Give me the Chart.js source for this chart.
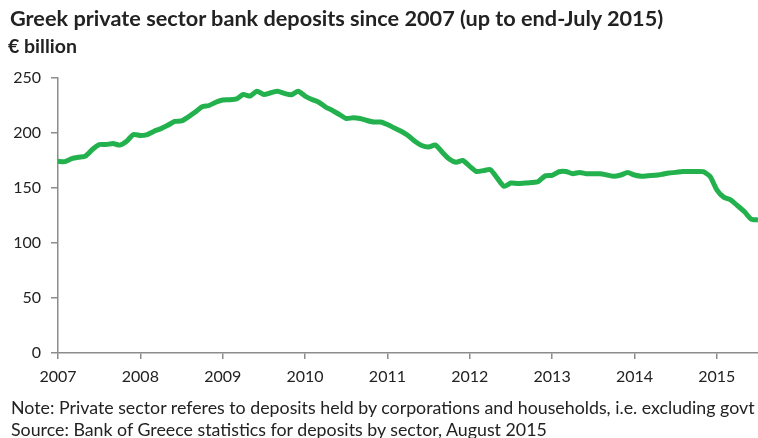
<!DOCTYPE html>
<html lang="en">
<head>
<meta charset="UTF-8" />
<title>Greek private sector bank deposits</title>
<script src="https://cdn.jsdelivr.net/npm/chart.js"></script>
<style>
  body { margin: 0; background: #fff; font-family: Lato, "Open Sans", sans-serif; color: #222; }
  #wrap { position: relative; width: 758px; height: 438px; overflow: hidden; }
  canvas { position: absolute; left: 0; top: 0; }
  .txt { position: absolute; left: 10px; white-space: nowrap; line-height: 1.2; }
  #title { top: 5px; font-size: 21.7px; font-weight: bold; }
  #unit { top: 34px; left: 8px; font-size: 19.5px; font-weight: bold; }
  #note { top: 397px; left: 11px; font-size: 17.8px; }
  #source { top: 419px; left: 11px; font-size: 17.8px; }
</style>
</head>
<body>
<div id="wrap">
  <canvas id="chart" width="758" height="438"></canvas>
  <div class="txt" id="title">Greek private sector bank deposits since 2007 (up to end-July 2015)</div>
  <div class="txt" id="unit">€ billion</div>
  <div class="txt" id="note">Note: Private sector referes to deposits held by corporations and households, i.e. excluding govt</div>
  <div class="txt" id="source">Source: Bank of Greece statistics for deposits by sector, August 2015</div>
</div>

<script>
// monthly, Jan 2007 .. Jul 2015, EUR bn
const startYear = 2007;
const deposits = [
  // 2007
  174.3, 174.0, 176.7, 178.0, 179.0, 185.0, 189.5, 189.5, 190.4, 189.0, 192.5, 198.6,
  // 2008
  197.7, 198.6, 201.6, 204.0, 207.0, 210.5, 211.0, 214.7, 219.0, 223.8, 225.0, 228.0,
  // 2009
  230.0, 230.2, 231.0, 235.0, 233.6, 238.0, 235.0, 236.6, 238.0, 236.0, 234.8, 238.0,
  // 2010
  233.6, 230.5, 228.0, 223.5, 220.5, 216.8, 213.2, 213.8, 213.2, 211.4, 210.0, 210.0,
  // 2011
  207.7, 204.6, 201.6, 197.7, 192.5, 188.6, 187.3, 189.0, 182.5, 176.4, 173.4, 175.0,
  // 2012
  169.7, 165.0, 165.8, 166.7, 159.0, 151.5, 154.5, 154.0, 154.5, 155.0, 156.0, 161.0,
  // 2013
  161.5, 164.8, 165.0, 163.0, 164.2, 163.0, 163.0, 163.0, 161.8, 160.6, 161.8, 164.0,
  // 2014
  161.8, 160.6, 161.2, 161.5, 162.4, 163.6, 164.2, 165.0, 165.0, 165.0, 164.8, 160.6,
  // 2015
  148.4, 141.7, 139.3, 134.0, 128.6, 121.7, 121.0
];
const yTicks = [0, 50, 100, 150, 200, 250];

const points = deposits.map((v, i) => ({ x: startYear + i / 12, y: v }));
const xMax = startYear + (deposits.length - 1) / 12;

new Chart(document.getElementById('chart').getContext('2d'), {
  type: 'line',
  data: {
    datasets: [{
      data: points,
      borderColor: '#22b14c',
      borderWidth: 5,
      pointRadius: 0,
      tension: 0.2,
      fill: false
    }]
  },
  options: {
    responsive: false,
    animation: false,
    layout: { padding: { top: 78, left: 0, right: 0, bottom: 0 } },
    plugins: { legend: { display: false }, tooltip: { enabled: false } },
    scales: {
      x: {
        type: 'linear',
        min: startYear,
        max: xMax,
        afterFit: s => { s.height = 85; },
        border: { color: '#8c8c8c', width: 1.5 },
        grid: { drawOnChartArea: false, color: '#8c8c8c', tickLength: 6, lineWidth: 1.5 },
        ticks: {
          stepSize: 1,
          includeBounds: false,
          padding: 8,
          color: '#222',
          font: { family: 'Lato', size: 16 },
          maxRotation: 0,
          callback: v => String(v)
        }
      },
      y: {
        min: 0,
        max: 250,
        afterFit: s => { s.width = 58; },
        afterBuildTicks: s => { s.ticks = yTicks.map(v => ({ value: v })); },
        border: { color: '#8c8c8c', width: 1.5 },
        grid: { drawOnChartArea: false, color: '#8c8c8c', tickLength: 7, lineWidth: 1.5 },
        ticks: {
          padding: 10,
          color: '#222',
          font: { family: 'Lato', size: 16 }
        }
      }
    }
  }
});
</script>
</body>
</html>
